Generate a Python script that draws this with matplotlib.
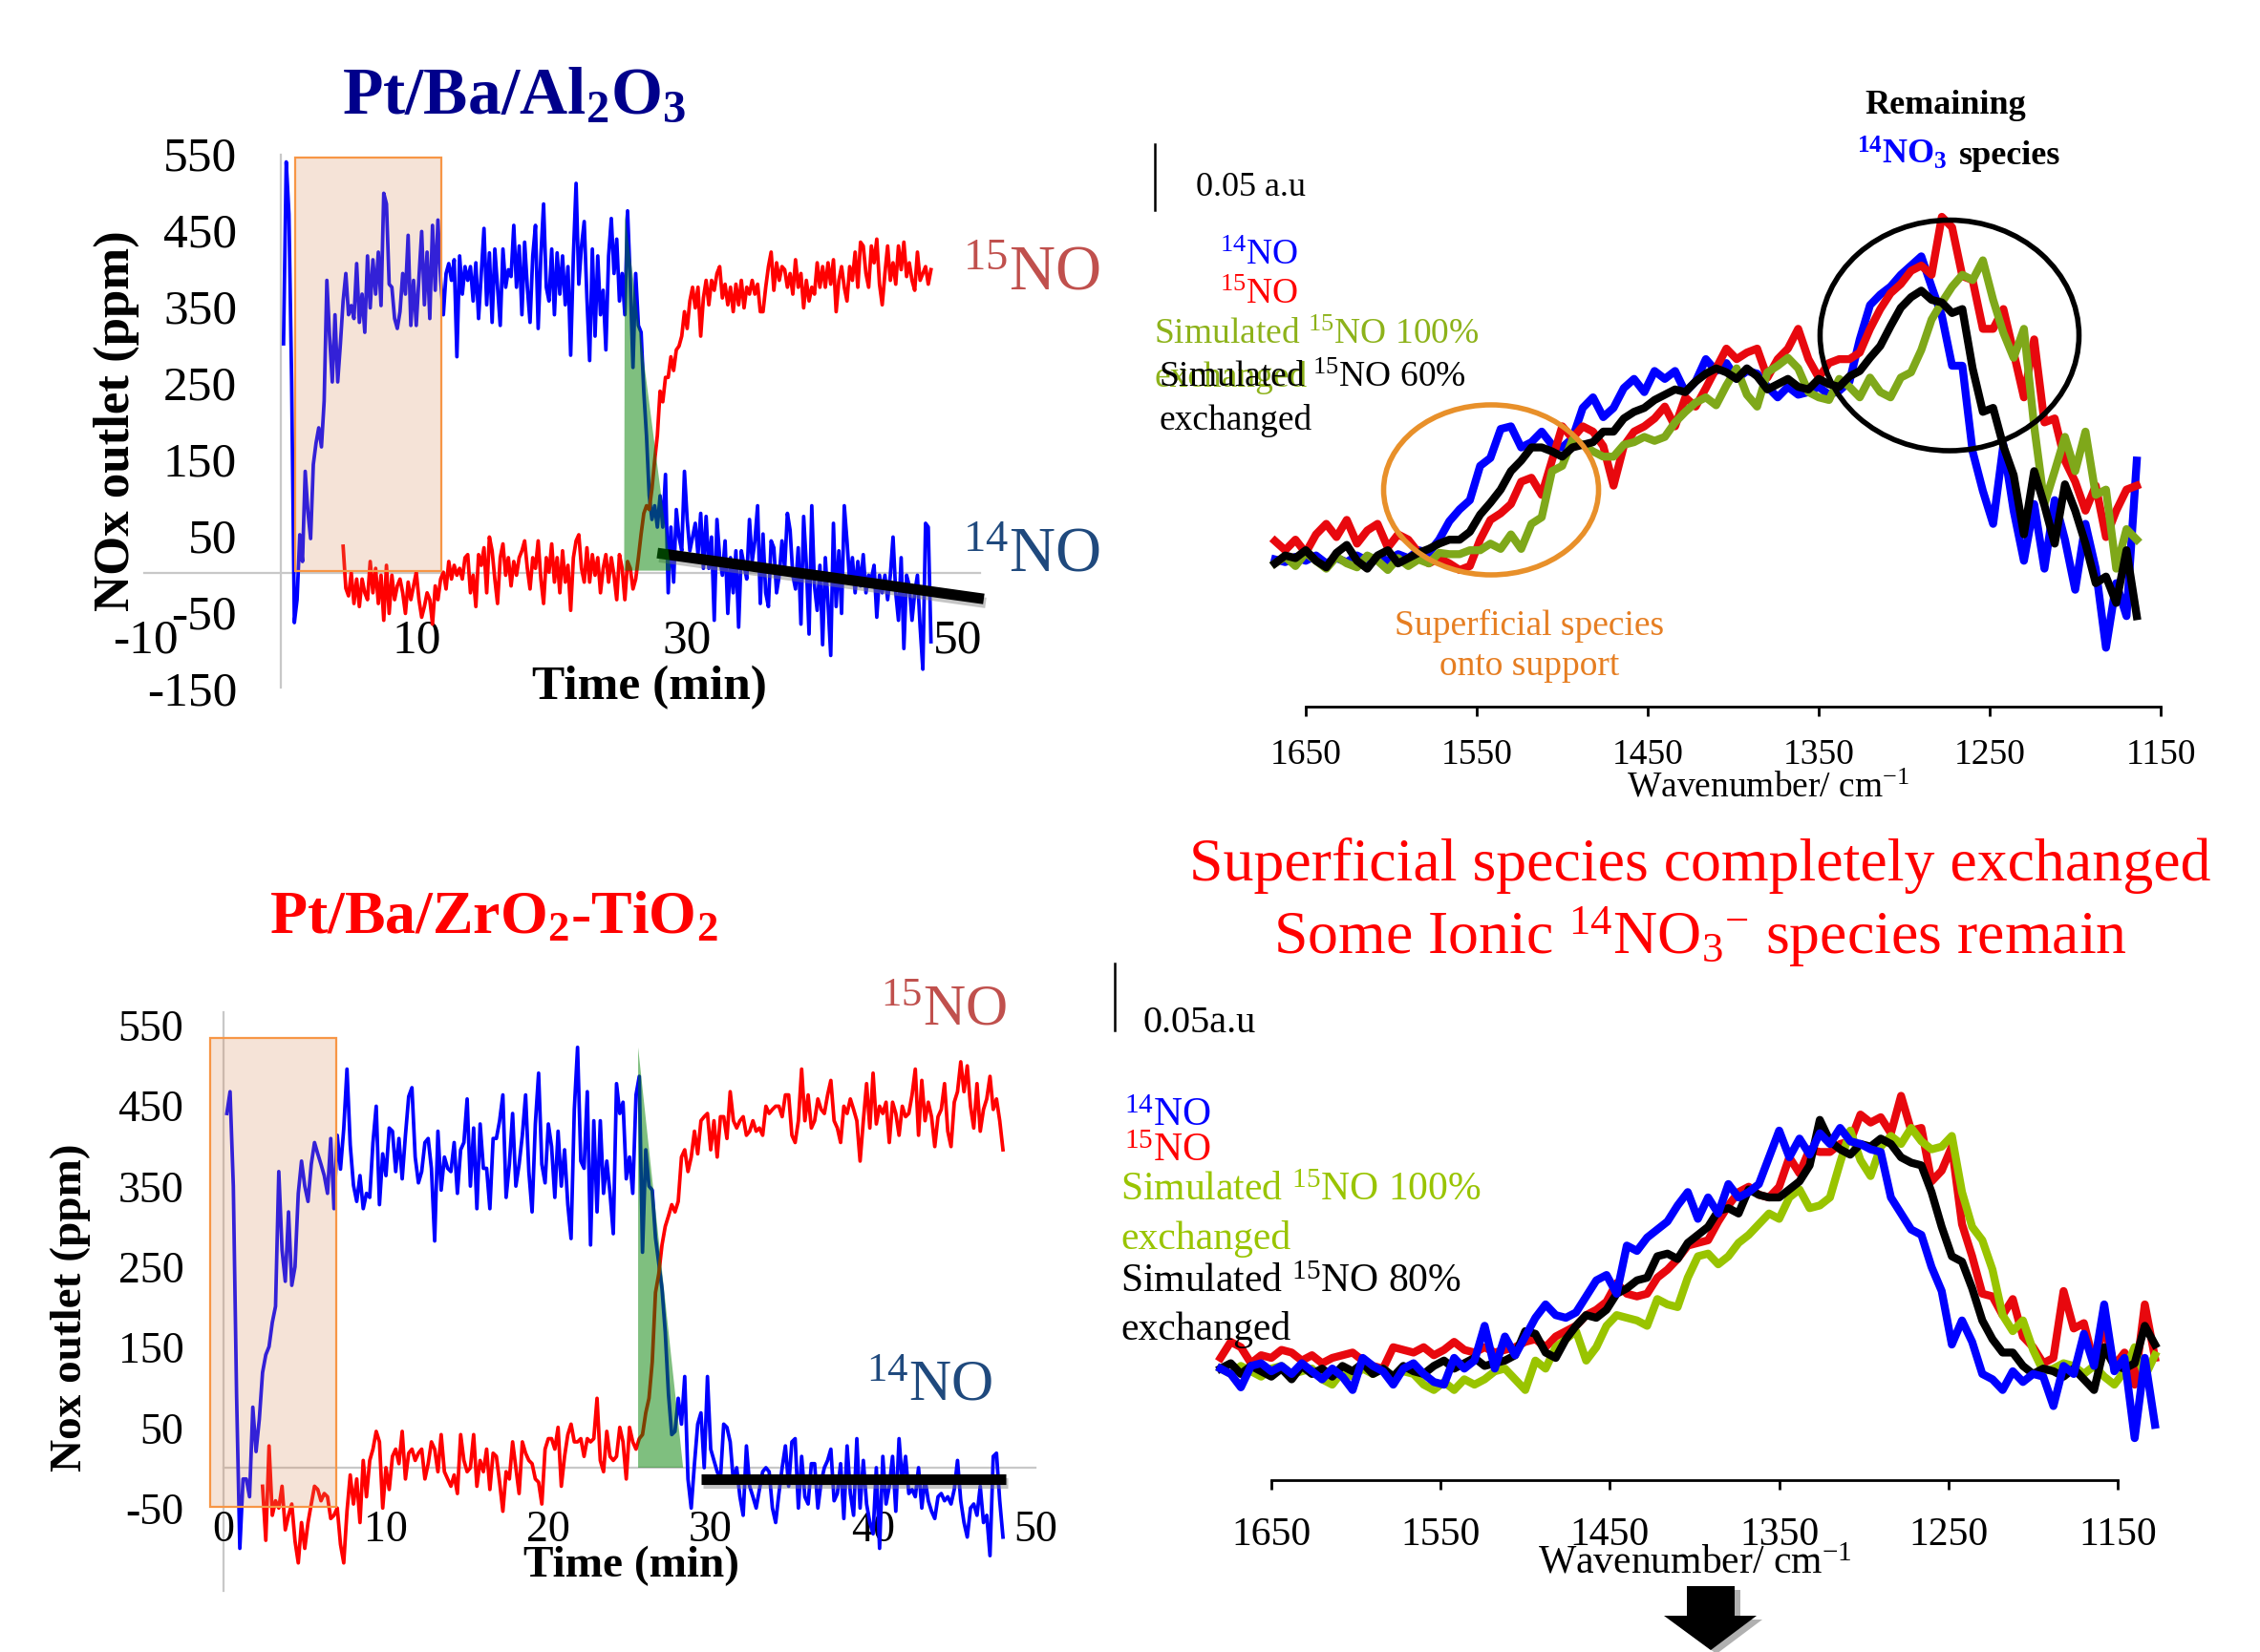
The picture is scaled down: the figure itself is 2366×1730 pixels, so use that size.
import numpy as np
import matplotlib
matplotlib.use("Agg")
import matplotlib.pyplot as plt
from matplotlib.patches import Rectangle, Polygon, Ellipse
import matplotlib.patheffects as pe

W, H, DPI = 2366, 1731, 100
plt.rcParams['font.family'] = ['Liberation Serif', 'DejaVu Serif']
plt.rcParams['mathtext.fontset'] = 'custom'
plt.rcParams['mathtext.rm'] = 'Liberation Serif'
plt.rcParams['mathtext.it'] = 'Liberation Serif:italic'
plt.rcParams['mathtext.bf'] = 'Liberation Serif:bold'
plt.rcParams['mathtext.default'] = 'regular'
plt.rcParams['axes.unicode_minus'] = False

# ------------------------------------------------------------------ data
STEP = 0.2  # min between samples

# Pt/Ba/Al2O3 : 14NO outlet (ppm), samples from t = 0.2 min
al_14no_t0 = 0.2
al_14no = [300, 538, 470, 250, -65, -35, 50, 15, 133, 80,
           45, 142, 170, 190, 165, 225, 383, 310, 250, 338,
           250, 300, 356, 392, 338, 350, 333, 405, 328, 365,
           315, 415, 347, 410, 365, 420, 350, 497, 483, 378,
           374, 333, 320, 342, 392, 365, 442, 324, 383, 324,
           387, 447, 351, 420, 333, 455, 370, 462, 383, 338,
           392, 405, 383, 410, 283, 415, 365, 401, 383, 401,
           356, 406, 333, 392, 451, 351, 419, 328, 424, 374,
           324, 424, 374, 397, 388, 455, 374, 428, 338, 433,
           374, 328, 415, 455, 320, 415, 483, 374, 356, 424,
           338, 419, 365, 415, 351, 401, 285, 415, 510, 378,
           428, 460, 360, 278, 424, 310, 415, 338, 370, 292,
           415, 464, 392, 437, 356, 392, 338, 474, 383, 269,
           392, 324, 315, 237, 179, 101, 70, 88, 60, 101,
           60, 129, -26, 60, -12, 83, 47, 29, 133, 70,
           29, 47, 65, 24, 78, 6, 74, 6, 47, -62,
           70, 20, -3, 42, -53, 20, -26, 29, -71, 29,
           10, -8, 70, 15, 42, 88, -40, 51, -26, -44,
           42, 33, -26, -3, 42, 6, 78, 56, -3, -21,
           33, -67, 74, 10, -80, 88, -17, -49, 10, -94,
           20, -40, -108, 65, -44, 29, -53, 88, 42, -12,
           20, -26, 15, -17, 24, -26, -3, -8, 10, -58,
           -3, -26, -3, -35, -3, 47, -26, -62, 20, -99,
           -3, -17, -62, -26, -3, -71, -126, 65, 60, -90]

# Pt/Ba/Al2O3 : 15NO outlet (ppm), samples from t = 4.6 min
al_15no_t0 = 4.6
al_15no = [35, -20, -30, 0, -40, -8, -44, -8, -26, -35,
           15, -26, 6, -40, -3, -62, 10, -53, -3, -35,
           -17, -8, -26, -53, -12, -35, -17, 1, -35, -58,
           -44, -26, -35, -67, -17, -35, -8, 1, -21, 15,
           -8, 10, -3, 6, -8, 20, 24, -26, -3, -44,
           24, 10, 33, -26, 47, 29, -8, -40, 20, 38,
           -3, 20, -17, 15, -3, 20, 29, 42, 6, -21,
           20, 6, 42, -8, -40, 20, 1, 38, -12, 20,
           -26, 29, -12, 10, -49, 20, 42, 50, 6, -12,
           33, -12, 24, -3, 20, -26, 6, 24, -12, 20,
           -3, -35, 24, 6, -35, 15, 6, -21, -8, 20,
           51, 78, 88, 83, 110, 147, 180, 238, 224, 256,
           256, 283, 265, 292, 297, 310, 342, 320, 356, 374,
           347, 374, 310, 360, 383, 351, 383, 370, 392, 401,
           360, 378, 351, 374, 342, 378, 351, 383, 347, 374,
           365, 383, 365, 378, 342, 342, 374, 401, 420, 370,
           406, 383, 401, 397, 374, 392, 365, 410, 374, 392,
           347, 383, 356, 374, 365, 406, 374, 401, 374, 406,
           378, 410, 342, 383, 401, 374, 356, 401, 383, 420,
           374, 433, 428, 392, 374, 428, 406, 437, 378, 351,
           392, 428, 383, 406, 378, 428, 397, 433, 388, 406,
           383, 370, 420, 383, 392, 401, 378, 397]

# Pt/Ba/ZrO2-TiO2 : 14NO outlet (ppm), samples from t = 0.2 min
zt_14no_t0 = 0.2
zt_14no = [439, 466, 349, 90, -100, -14, -14, -36, 75, 20,
           60, 118, 140, 150, 180, 200, 367, 270, 231, 317,
           226, 249, 340, 380, 349, 330, 376, 403, 389, 376,
           362, 340, 408, 321, 412, 370, 420, 494, 400, 350,
           330, 362, 321, 340, 335, 403, 448, 326, 389, 362,
           421, 417, 367, 408, 358, 412, 460, 471, 385, 353,
           367, 403, 408, 371, 281, 417, 344, 385, 371, 367,
           403, 340, 394, 403, 457, 349, 421, 321, 426, 371,
           371, 321, 408, 408, 430, 462, 335, 376, 439, 349,
           376, 412, 462, 367, 317, 426, 489, 376, 353, 426,
           398, 335, 417, 349, 394, 326, 284, 444, 521, 380,
           371, 466, 276, 430, 317, 430, 340, 380, 340, 290,
           476, 439, 453, 358, 385, 340, 462, 485, 267, 394,
           349, 344, 285, 254, 222, 168, 91, 41, 45, 86,
           54, 113, -14, -50, 5, 54, 68, 0, 113, 23,
           9, -5, -14, 54, 50, 32, -18, 0, -36, -59,
           27, -23, -36, -50, -27, -5, 0, -5, -50, -68,
           -32, 0, 27, -23, 32, 36, -50, 14, -36, -45,
           5, 5, -50, -18, 0, 9, 23, -41, -32, 5,
           -63, 27, -32, -59, 36, -50, 9, -45, -68, -82,
           0, -100, 14, -45, -23, 14, -54, 36, -18, 14,
           -32, -27, -36, 0, -50, -14, -41, -54, -63, -36,
           -32, -41, -36, -45, -27, 9, -41, -68, -86, -50,
           -45, -59, -23, -68, -59, -109, 14, 18, -41, -86]

# Pt/Ba/ZrO2-TiO2 : 15NO outlet (ppm), samples from t = 2.4 min
zt_15no_t0 = 2.4
zt_15no = [-23, -90, 27, -59, -41, -50, -23, -77, -59, -45,
           -91, -118, -68, -100, -68, -45, -23, -27, -41, -32,
           -36, -63, -59, -50, -95, -118, -54, -9, -45, -14,
           -68, 9, -36, 9, 23, 45, 32, -50, 0, -27,
           14, 23, 5, 45, -14, 18, 23, 9, 18, 23,
           -14, 5, 32, 23, -5, 41, -5, -14, -23, -9,
           -32, 41, 9, -5, 0, 41, -23, 9, -5, 23,
           -27, 18, 14, -18, -54, -5, -14, 32, 0, -32,
           32, 18, 9, 5, -14, -18, -45, 23, 36, 36,
           23, 50, -23, 14, 41, 54, 32, 32, 36, 14,
           36, 32, 36, 86, 9, -5, 45, 14, 9, 14,
           50, 32, -14, 50, 32, 23, 36, 41, 68, 86,
           131, 217, 240, 276, 299, 312, 326, 317, 330, 385,
           394, 367, 385, 417, 389, 430, 435, 439, 394, 430,
           385, 435, 435, 408, 466, 430, 421, 430, 435, 412,
           417, 430, 417, 421, 412, 448, 439, 444, 448, 448,
           435, 462, 462, 412, 403, 430, 494, 430, 462, 421,
           430, 457, 444, 439, 462, 480, 430, 421, 403, 448,
           439, 457, 444, 430, 380, 430, 476, 421, 489, 426,
           448, 439, 453, 403, 453, 439, 412, 448, 435, 439,
           462, 494, 412, 480, 430, 453, 435, 398, 435, 444,
           476, 417, 398, 453, 466, 503, 466, 498, 448, 421,
           476, 417, 444, 457, 485, 444, 457, 430, 394]

# highlighted regions / trend lines (time in min, NOx in ppm)
al_box_t = [1.08, 11.86]
al_box_v = [3, 544]
al_exch_t = [25.35, 25.4, 28.8]
al_exch_v = [3, 470, 3]
al_trend_t = [27.8, 51.9]
al_trend_v = [26, -34]

zt_box_t = [-0.82, 6.96]
zt_box_v = [-48, 533]
zt_exch_t = [25.53, 25.53, 28.3]
zt_exch_v = [0, 521, 0]
zt_trend_t = [29.4, 48.15]
zt_trend_v = [-14, -14]

al_xticks = [-10, 10, 30, 50]
al_yticks = [-150, -50, 50, 150, 250, 350, 450, 550]
zt_xticks = [0, 10, 20, 30, 40, 50]
zt_yticks = [-50, 50, 150, 250, 350, 450, 550]

# DRIFT spectra (absorbance, milli a.u.), wavenumber every 6 cm-1
WN_STEP = 6
al_wn0 = 1668
al_ir_14no = [3, 1, 5, 2, 6, 0, 4, 1, 6, 2,
              5, 2, 7, 4, 10, 8, 18, 32, 41, 48,
              74, 80, 102, 104, 88, 92, 100, 90, 88, 95,
              118, 126, 111, 118, 133, 140, 130, 146, 140, 146,
              130, 138, 155, 146, 152, 140, 146, 144, 134, 126,
              134, 128, 130, 134, 128, 131, 138, 170, 196, 204,
              210, 219, 226, 233, 210, 188, 150, 150, 85, 55,
              30, 90, 40, 2, 45, -4, 48, 18, -20, 30,
              -4, -64, -15, -40, 78]
al_ir_15no = [17, 10, 18, 8, 22, 30, 20, 33, 15, 25,
              30, 12, 22, 18, 8, 0, 4, 0, -5, -2,
              18, 33, 38, 45, 62, 65, 52, 78, 104, 95,
              104, 100, 89, 59, 89, 100, 104, 110, 119, 104,
              126, 119, 133, 148, 163, 155, 160, 163, 141, 155,
              163, 178, 155, 141, 152, 155, 155, 160, 178, 193,
              205, 212, 222, 226, 219, 263, 255, 218, 215, 178,
              178, 193, 160, 126, 170, 107, 110, 78, 62, 40,
              59, 20, 40, 56, 59]
al_ir_sim100 = [0, 5, -2, 8, 2, -4, 5, 0, -3, 6,
                2, -5, 4, -2, 3, 0, 8, 7, 7, 10,
                10, 15, 11, 22, 11, 30, 35, 70, 74, 94,
                90, 85, 81, 81, 90, 92, 96, 93, 96, 107,
                115, 122, 126, 120, 135, 148, 128, 119, 145, 150,
                156, 148, 130, 126, 124, 140, 134, 126, 141, 130,
                126, 141, 145, 162, 185, 198, 210, 219, 215, 230,
                200, 175, 156, 178, 104, 45, 70, 96, 70, 100,
                52, 56, -4, 26, 18]
al_ir_sim60 = [0, 6, 4, 10, 2, -3, 8, 14, 2, -4,
               6, 10, 0, 4, 8, 11, 15, 18, 18, 24,
               37, 46, 56, 70, 78, 88, 88, 85, 81, 88,
               90, 92, 100, 100, 110, 115, 118, 124, 128, 132,
               130, 138, 144, 148, 145, 140, 148, 142, 132, 136,
               140, 134, 132, 140, 136, 134, 142, 146, 156, 165,
               180, 194, 202, 207, 200, 198, 190, 193, 148, 115,
               118, 89, 67, 22, 70, 44, 15, 60, 40, 15,
               -15, -10, -30, 10, -40]

zt_wn0 = 1680
zt_ir_14no = [2, -2, -12, 4, 6, 0, 4, -2, 6, 0,
              -6, 2, -4, -14, 10, 4, 0, -10, 2, 6,
              -2, -8, -10, 10, 2, 8, 34, 2, 26, 12,
              26, 40, 50, 42, 40, 44, 56, 68, 72, 58,
              94, 90, 100, 106, 112, 124, 134, 114, 130, 118,
              140, 130, 134, 140, 160, 180, 160, 174, 162, 178,
              170, 182, 172, 170, 166, 164, 130, 118, 106, 102,
              78, 60, 20, 38, 22, -2, -6, -14, 0, -8,
              -2, -4, -26, 4, -2, 28, 4, 50, 0, 10,
              -50, 10, -40]
zt_ir_15no = [10, 22, 18, 6, 12, 10, 16, 14, 8, 12,
              6, 10, 12, 14, 8, 4, 2, 18, 16, 14,
              18, 12, 16, 22, 16, 14, 18, 14, 16, 18,
              22, 24, 18, 26, 30, 34, 42, 46, 52, 66,
              58, 56, 58, 70, 76, 84, 94, 96, 98, 112,
              124, 134, 138, 132, 130, 138, 160, 148, 166, 164,
              164, 170, 172, 192, 186, 190, 178, 206, 180, 182,
              142, 150, 168, 110, 86, 58, 56, 42, 54, 26,
              18, 6, 10, 60, 32, 36, 6, 34, 4, 14,
              -10, 50, 10]
zt_ir_sim100 = [2, -2, 4, 0, -4, 2, 4, -2, 0, 2,
                -6, -10, 0, -4, 2, -2, 2, -4, 0, -2,
                -10, -14, -8, -14, -6, -10, -6, 0, 2, -6,
                -14, 8, 2, 18, 24, 30, 8, 18, 34, 42,
                40, 38, 34, 54, 50, 48, 70, 86, 88, 80,
                86, 96, 102, 110, 118, 114, 130, 136, 122, 124,
                130, 156, 180, 158, 146, 168, 176, 170, 182, 172,
                166, 168, 176, 134, 108, 98, 76, 42, 30, 38,
                16, 0, 2, 6, 4, -2, 4, -4, -10, 0,
                18, -4, 12]
zt_ir_sim80 = [2, 6, -2, 4, 0, -4, 2, -6, 4, -2,
               2, -4, 4, 0, 6, -2, 2, -4, 4, 0,
               -2, 4, 8, 2, 6, 10, 4, 6, 8, 12,
               30, 28, 14, 10, 24, 34, 42, 40, 46, 58,
               62, 68, 70, 86, 88, 84, 96, 102, 108, 120,
               122, 118, 136, 132, 130, 130, 136, 142, 154, 188,
               172, 166, 162, 170, 168, 174, 170, 160, 156, 154,
               134, 108, 86, 82, 62, 38, 24, 14, 14, 4,
               -2, 2, 0, -4, 2, -6, -14, 18, 4, 2,
               6, 34, 20]

wn_ticks = [1650, 1550, 1450, 1350, 1250, 1150]
scale_bar_mau = 50  # 0.05 a.u.

# annotation ellipses on the upper spectrum (cm-1, mAU)
ell_support = dict(xy=(1541.6, 55.8), width=125.7, height=129)
ell_ionic = dict(xy=(1273.5, 173.0), width=151.4, height=175)

# ------------------------------------------------------------------ helpers
fig = plt.figure(figsize=(W / DPI, H / DPI), dpi=DPI)


def rect_px(x0, y0, x1, y1):
    return [x0 / W, 1 - y1 / H, (x1 - x0) / W, (y1 - y0) / H]


def ftext(x, y, s, **kw):
    kw.setdefault('va', 'baseline')
    return fig.text(x / W, 1 - y / H, s, **kw)


def tseries(start, vals):
    return start + STEP * np.arange(len(vals))


def wgrid(start, vals):
    return start - WN_STEP * np.arange(len(vals))


def time_panel(rect, xlim, ylim, ybounds, xbounds, xticks, yticks, fs, xpad, ypad):
    ax = fig.add_axes(rect)
    ax.set_xlim(*xlim)
    ax.set_ylim(*ylim)
    ax.patch.set_visible(False)
    for s in ['top', 'right']:
        ax.spines[s].set_visible(False)
    ax.spines['left'].set_position(('data', 0))
    ax.spines['bottom'].set_position(('data', 0))
    ax.spines['left'].set_bounds(*ybounds)
    ax.spines['bottom'].set_bounds(*xbounds)
    for s in ['left', 'bottom']:
        ax.spines[s].set_color('#c8c8c8')
        ax.spines[s].set_linewidth(1.6)
        ax.spines[s].set_zorder(0.5)
    ax.set_xticks(xticks)
    ax.set_yticks(yticks)
    ax.tick_params(axis='x', length=0, labelsize=fs, pad=xpad)
    ax.tick_params(axis='y', length=0, labelsize=fs, pad=ypad)
    return ax


def draw_time(ax, t14, v14, t15, v15, box_t, box_v, ex_t, ex_v, tr_t, tr_v):
    ax.plot(t14, v14, color='#0000ff', lw=2.7, zorder=2)
    ax.plot(t15, v15, color='#ff0000', lw=2.7, zorder=2)
    ax.plot(tr_t, tr_v, color='black', lw=8, solid_capstyle='butt', zorder=3,
            path_effects=[pe.SimpleLineShadow(offset=(1.5, -3), shadow_color='#808080', alpha=0.45),
                          pe.Normal()])
    ax.add_patch(Polygon(list(zip(ex_t, ex_v)), closed=True, facecolor='#008000',
                         alpha=0.5, edgecolor='none', zorder=4))
    ax.add_patch(Rectangle((box_t[0], box_v[0]), box_t[1] - box_t[0], box_v[1] - box_v[0],
                           facecolor='#d98c59', alpha=0.24, edgecolor='none', zorder=5))
    ax.add_patch(Rectangle((box_t[0], box_v[0]), box_t[1] - box_t[0], box_v[1] - box_v[0],
                           facecolor='none', edgecolor='#f79646', lw=1.6, zorder=5))


def spec_panel(rect, xlim, ylim, fs, pad):
    ax = fig.add_axes(rect)
    ax.set_xlim(*xlim)
    ax.set_ylim(*ylim)
    ax.patch.set_visible(False)
    for s in ['top', 'right', 'left']:
        ax.spines[s].set_visible(False)
    ax.spines['bottom'].set_bounds(1150, 1650)
    ax.spines['bottom'].set_linewidth(2)
    ax.set_xticks(wn_ticks)
    ax.set_yticks([])
    ax.tick_params(axis='x', direction='out', length=7, width=2, labelsize=fs, pad=pad)
    return ax


# ------------------------------------------------------------------ top-left panel
ax1 = time_panel(rect_px(100, 120, 1060, 760), (-13.68, 54.02), (-198.75, 601.25),
                 (-150, 548), (-10.1, 51.6), al_xticks, al_yticks, 37, 34, 33)
draw_time(ax1, tseries(al_14no_t0, al_14no), al_14no, tseries(al_15no_t0, al_15no), al_15no,
          al_box_t, al_box_v, al_exch_t, al_exch_v, al_trend_t, al_trend_v)

ftext(538, 118, r'Pt/Ba/Al$_2$O$_3$', ha='center', fontsize=50, fontweight='bold', color='#00008b')
ftext(680, 732, 'Time (min)', ha='center', fontsize=37, fontweight='bold')
fig.text(122 / W, 1 - 441 / H, 'NOx outlet (ppm)', rotation=90, ha='center', va='center',
         fontsize=38, fontweight='bold')
ftext(1008, 303, r'$^{15}$NO', fontsize=48, color='#c0504d')
ftext(1008, 598, r'$^{14}$NO', fontsize=48, color='#1f497d')

# ------------------------------------------------------------------ bottom-left panel
ax2 = time_panel(rect_px(60, 1000, 1100, 1720), (-10.24, 50.94), (-215.4, 636.7),
                 (-153, 565), (0, 50), zt_xticks, zt_yticks, 33, 31, 30)
draw_time(ax2, tseries(zt_14no_t0, zt_14no), zt_14no, tseries(zt_15no_t0, zt_15no), zt_15no,
          zt_box_t, zt_box_v, zt_exch_t, zt_exch_v, zt_trend_t, zt_trend_v)

ftext(517, 977, r'Pt/Ba/ZrO$_2$-TiO$_2$', ha='center', fontsize=46, fontweight='bold', color='#ff0000')
ftext(661, 1651, 'Time (min)', ha='center', fontsize=34, fontweight='bold')
fig.text(74 / W, 1 - 1369 / H, 'Nox outlet (ppm)', rotation=90, ha='center', va='center',
         fontsize=34, fontweight='bold')
ftext(922, 1074, r'$^{15}$NO', fontsize=44, color='#c0504d')
ftext(907, 1467, r'$^{14}$NO', fontsize=44, color='#1f497d')

# ------------------------------------------------------------------ top-right spectra
GREEN_T = '#8db21a'
LW = 6.0
ax3 = spec_panel(rect_px(1150, 100, 2300, 741), (1771.2, 1128.8), (-108.7, 355.8), 27, 16.5)
ax3.plot(wgrid(al_wn0, al_ir_14no), al_ir_14no, color='#0000ff', lw=LW, zorder=2)
ax3.plot(wgrid(al_wn0, al_ir_15no), al_ir_15no, color='#e8080e', lw=LW, zorder=2.1)
ax3.plot(wgrid(al_wn0, al_ir_sim100), al_ir_sim100, color='#7fa81a', lw=LW, zorder=2.2)
ax3.plot(wgrid(al_wn0, al_ir_sim60), al_ir_sim60, color='black', lw=LW, zorder=2.3)
ax3.add_patch(Ellipse(fill=False, edgecolor='#e8902a', lw=4, zorder=3, **ell_support))
ax3.add_patch(Ellipse(fill=False, edgecolor='black', lw=4, zorder=3, **ell_ionic))
ax3.plot([1738, 1738], [268, 268 + scale_bar_mau], color='black', lw=1.8, clip_on=False)

ftext(1252, 205, '0.05 a.u', fontsize=26)
ftext(1277, 277, r'$^{14}$NO', fontsize=27, color='#0000ff')
ftext(1277, 318, r'$^{15}$NO', fontsize=27, color='#ff0000')
ftext(1208, 360, r'Simulated $^{15}$NO 100%', fontsize=27, color=GREEN_T)
ftext(1208, 405, 'exchanged', fontsize=27, color=GREEN_T)
ftext(1213, 405, r'Simulated $^{15}$NO 60%', fontsize=27, color='black')
ftext(1213, 450, 'exchanged', fontsize=27, color='black')
ftext(2037, 119, 'Remaining', ha='center', fontsize=26, fontweight='bold')
ftext(1944, 172, r'$^{14}$NO$_3$', fontsize=26, fontweight='bold', color='#0000ff')
ftext(2051, 172, 'species', fontsize=26, fontweight='bold')
ftext(1601, 665, 'Superficial species', ha='center', fontsize=27, color='#e67e22')
ftext(1601, 707, 'onto support', ha='center', fontsize=27, color='#e67e22')
ftext(1851, 835, r'Wavenumber/ cm$^{-1}$', ha='center', fontsize=27)

# ------------------------------------------------------------------ bottom-right spectra
GREEN_B = '#99c400'
ax4 = spec_panel(rect_px(1130, 1000, 2300, 1551), (1763.4, 1103.2), (-81.4, 312.1), 30, 20)
ax4.plot(wgrid(zt_wn0, zt_ir_15no), zt_ir_15no, color='#e8080e', lw=LW, zorder=2)
ax4.plot(wgrid(zt_wn0, zt_ir_sim100), zt_ir_sim100, color=GREEN_B, lw=LW, zorder=2.1)
ax4.plot(wgrid(zt_wn0, zt_ir_sim80), zt_ir_sim80, color='black', lw=LW, zorder=2.2)
ax4.plot(wgrid(zt_wn0, zt_ir_14no), zt_ir_14no, color='#0000ff', lw=LW, zorder=2.3)
ax4.plot([1742.6, 1742.6], [255, 255 + scale_bar_mau], color='black', lw=1.8, clip_on=False)

ftext(1197, 1081, '0.05a.u', fontsize=29)
ftext(1177, 1179, r'$^{14}$NO', fontsize=30, color='#0000ff')
ftext(1177, 1216, r'$^{15}$NO', fontsize=30, color='#ff0000')
ftext(1173, 1257, r'Simulated $^{15}$NO 100%', fontsize=30, color=GREEN_B)
ftext(1173, 1308, 'exchanged', fontsize=30, color=GREEN_B)
ftext(1173, 1353, r'Simulated $^{15}$NO 80%', fontsize=30, color='black')
ftext(1173, 1403, 'exchanged', fontsize=30, color='black')
ftext(1774, 1648, r'Wavenumber/ cm$^{-1}$', ha='center', fontsize=30)

# ------------------------------------------------------------------ conclusions
ftext(1780, 922, 'Superficial species completely exchanged', ha='center', fontsize=46, color='#ff0000')
ftext(1780, 999, r'Some Ionic $^{14}$NO$_3$$^{-}$ species remain', ha='center', fontsize=46, color='#ff0000')

# down arrow (decoration)
arrow_px = [(1766, 1662), (1816, 1662), (1816, 1693), (1839, 1693), (1791, 1729),
            (1742, 1693), (1766, 1693)]
shadow = Polygon([((x + 6) / W, 1 - (y + 4) / H) for x, y in arrow_px], closed=True,
                 transform=fig.transFigure, facecolor='#b0b0b0', edgecolor='none')
arrow = Polygon([(x / W, 1 - y / H) for x, y in arrow_px], closed=True,
                transform=fig.transFigure, facecolor='black', edgecolor='none')
fig.patches.extend([shadow, arrow])

fig.savefig('out.png', dpi=DPI, facecolor='white')
